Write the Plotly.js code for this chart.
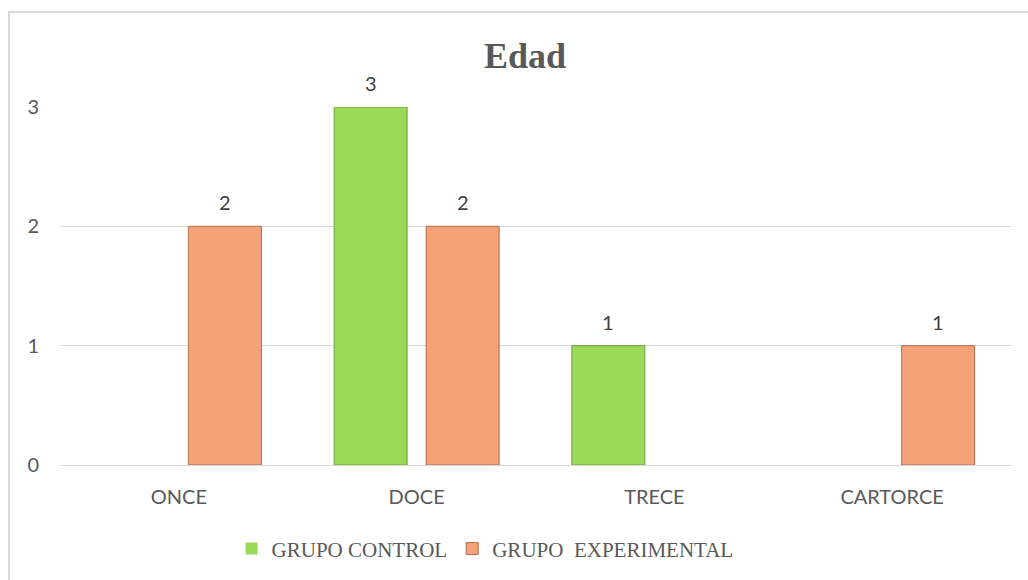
<!DOCTYPE html>
<html>
<head>
<meta charset="utf-8">
<script src="https://cdn.plot.ly/plotly-3.0.1.min.js"></script>
<style>
  html, body { margin: 0; padding: 0; background: #ffffff; overflow: hidden; width: 1028px; height: 580px; }
  #frame { position: absolute; left: 8px; top: 11px; width: 1018px; height: 567px;
           border-left: 2px solid #d9d9d9; border-top: 2px solid #d9d9d9; }
  #chart { position: absolute; left: 0; top: 0; width: 1028px; height: 580px; }
</style>
</head>
<body>
<div id="frame"></div>
<div id="chart"></div>
<script>
const categories = ["ONCE", "DOCE", "TRECE", "CARTORCE"];
const grupoControl = [0, 3, 1, 0];
const grupoExperimental = [2, 2, 0, 1];
const seriesNames = ["GRUPO CONTROL", "GRUPO\u00a0 EXPERIMENTAL"];
const chartTitle = "Edad";
const yTicks = [0, 1, 2, 3];

const tickFont = { family: "Lato, 'Liberation Sans', sans-serif", size: 20, color: "#595959" };
const lineW = vals => vals.map(v => (v === 0 ? 0 : 1));

const traces = [
  {
    type: "bar", name: seriesNames[0], x: categories, y: grupoControl,
    marker: { color: "#9bd95a", line: { color: "#6f9e3e", width: lineW(grupoControl) } },
    hoverinfo: "x+y"
  },
  {
    type: "bar", name: seriesNames[1], x: categories, y: grupoExperimental,
    marker: { color: "#f6a278", line: { color: "#b06c4d", width: lineW(grupoExperimental) } },
    hoverinfo: "x+y"
  }
];

// data labels above bars (only non-zero values, as in the original)
const annotations = [];
const offsets = [-46, 46];
[grupoControl, grupoExperimental].forEach((vals, s) => {
  vals.forEach((v, i) => {
    if (v !== 0) {
      annotations.push({
        x: categories[i], y: v, xref: "x", yref: "y",
        text: String(v), showarrow: false,
        xshift: offsets[s], yshift: 24,
        font: { family: "Lato, 'Liberation Sans', sans-serif", size: 20, color: "#404040" }
      });
    }
  });
});

const layout = {
  width: 1028, height: 580,
  margin: { l: 60, r: 17, t: 107, b: 114 },
  paper_bgcolor: "rgba(0,0,0,0)",
  plot_bgcolor: "rgba(0,0,0,0)",
  title: {
    text: "<b>" + chartTitle + "</b>",
    font: { family: "'Liberation Serif', 'Times New Roman', serif", size: 36, color: "#595959" },
    x: 525 / 1028, xref: "container", xanchor: "center",
    y: 1 - 55 / 580, yref: "container", yanchor: "middle"
  },
  barmode: "group",
  bargap: 0.226,
  bargroupgap: 0.207,
  xaxis: {
    type: "category",
    tickfont: tickFont,
    showgrid: false, zeroline: false, showline: false,
    ticks: "", ticklabelstandoff: 18
  },
  yaxis: {
    range: [0, 3],
    tickvals: yTicks,
    tickfont: tickFont,
    showgrid: true, gridcolor: "#d9d9d9", gridwidth: 1,
    zeroline: true, zerolinecolor: "#d9d9d9", zerolinewidth: 1,
    showline: false, ticks: "", ticklabelstandoff: 20
  },
  showlegend: true,
  legend: {
    orientation: "h",
    x: 0.447, xanchor: "center",
    y: -0.231, yanchor: "middle",
    font: { family: "'Liberation Serif', 'Times New Roman', serif", size: 21, color: "#595959" },
    itemwidth: 30,
    traceorder: "normal"
  },
  annotations: annotations
};

Plotly.newPlot("chart", traces, layout, { displayModeBar: false, staticPlot: true });
</script>
</body>
</html>
